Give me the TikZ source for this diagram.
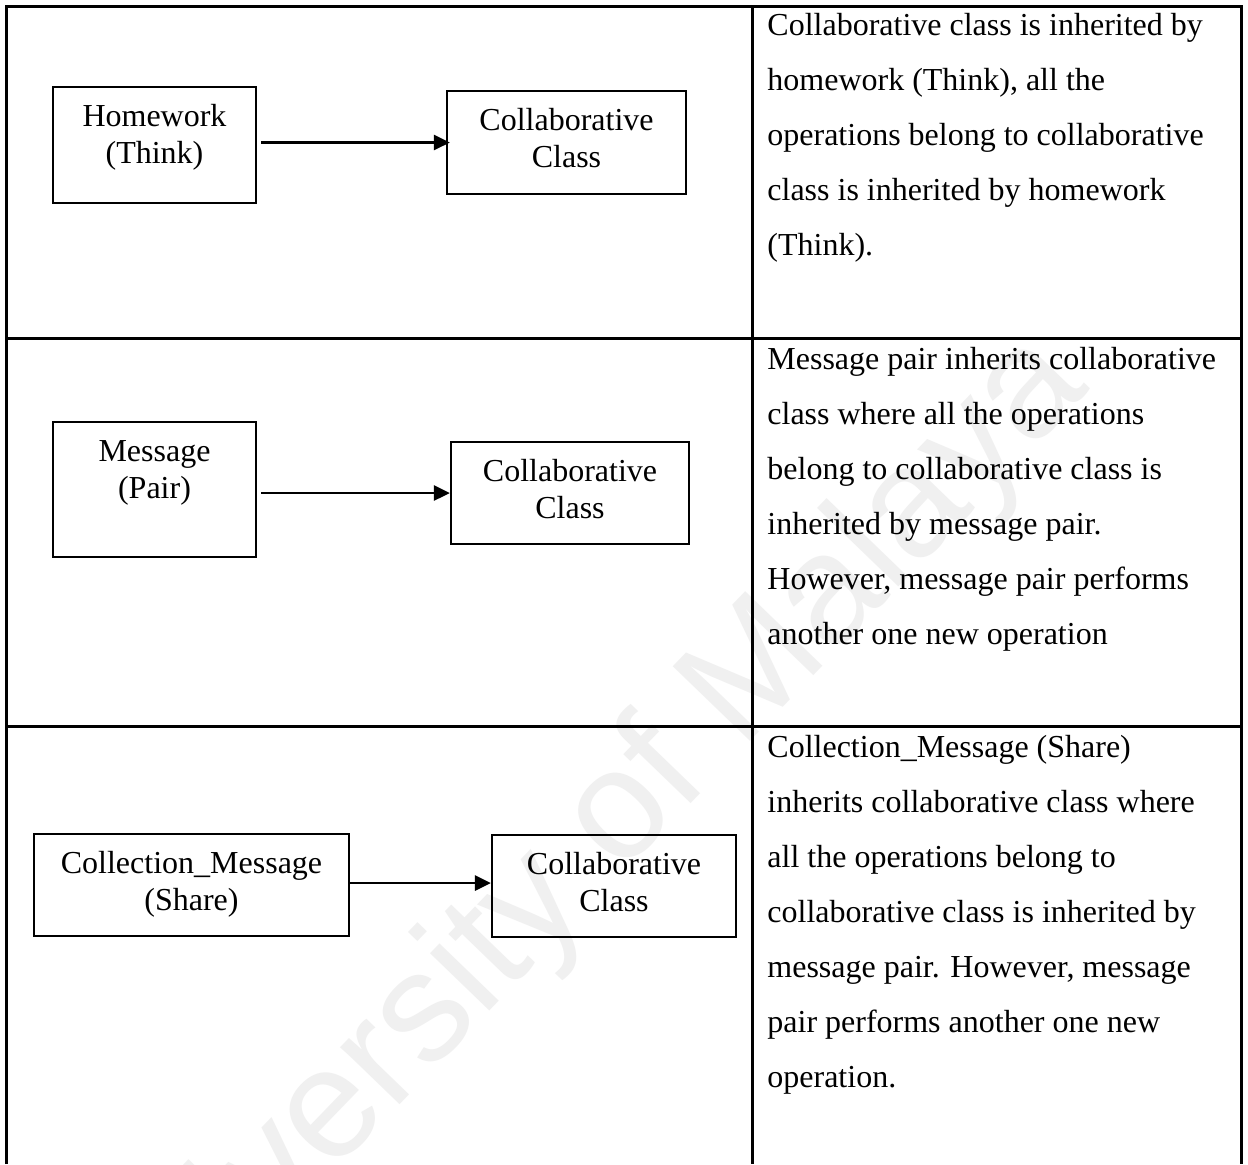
\documentclass[tikz,border=0pt]{standalone}
\usepackage{fontspec}
\setmainfont{Liberation Serif}
\setsansfont{Liberation Sans}
\usetikzlibrary{arrows.meta}

\begin{document}
\begin{tikzpicture}[
  x=0.5pt, y=-0.5pt,
  tableline/.style={line width=1.5pt},
  classbox/.style={draw, line width=1.1pt, inner sep=0pt},
  boxtext/.style={anchor=north, align=center, inner sep=0pt,
                  font=\fontsize{16}{18.4}\selectfont},
  celltext/.style={anchor=north west, align=left, inner sep=0pt,
                   font=\fontsize{16}{27.5}\selectfont},
  inherits/.style={line width=1.4pt, -{Triangle[length=8pt,width=7.5pt]}},
  watermark/.style={rotate=46, inner sep=0pt, text=black!6,
                    font=\fontsize{78}{78}\sffamily\selectfont}
]
\useasboundingbox (0,0) rectangle (1248,1164);
\fill[white] (0,0) rectangle (1248,1164);

% faint watermark behind the table
\node[watermark] (wm) at (574,866) {University of Malaya};

% table frame: open at the bottom
\draw[tableline] (6.5,1164) -- (6.5,6) -- (1241.7,6) -- (1241.7,1164);
\draw[tableline] (752.3,6) -- (752.3,1164);
\draw[tableline] (6.5,338.5) -- (1241.7,338.5);
\draw[tableline] (6.5,726) -- (1241.7,726);

% row 1: Homework (Think)
\node[classbox, minimum width=101.5pt, minimum height=58pt] (hw) at (154.5,145) {};
\node[boxtext] (hwt) at ([yshift=-7.4pt]hw.north) {\strut Homework\\(Think)};
\node[classbox, minimum width=119.5pt, minimum height=51.5pt] (ca) at (566.5,142.5) {};
\node[boxtext] (cat) at ([yshift=-7.4pt]ca.north) {\strut Collaborative\\Class};
\draw[inherits, shorten <=2pt, shorten >=-2pt] (hw.east |- ca.west) -- (ca.west);
\node[celltext] (da) at (767,-3.5) {\strut Collaborative class is inherited by\\
  homework (Think), all the\\
  operations belong to collaborative\\
  class is inherited by homework\\
  (Think).};

% row 2: Message (Pair)
\node[classbox, minimum width=101.5pt, minimum height=67.5pt] (mp) at (154.5,489.5) {};
\node[boxtext] (mpt) at ([yshift=-7.4pt]mp.north) {\strut Message\\(Pair)};
\node[classbox, minimum width=119pt, minimum height=51pt] (cb) at (570,493) {};
\node[boxtext] (cbt) at ([yshift=-7.4pt]cb.north) {\strut Collaborative\\Class};
\draw[inherits, shorten <=2pt] (mp.east |- cb.west) -- (cb.west);
\node[celltext] (db) at (767,330.5) {\strut Message pair inherits collaborative\\
  class where all the operations\\
  belong to collaborative class is\\
  inherited by message pair.\\
  However, message pair performs\\
  another one new operation};

% row 3: Collection_Message (Share)
\node[classbox, minimum width=157.5pt, minimum height=51pt] (cm) at (191.5,885) {};
\node[boxtext] (cmt) at ([yshift=-7.4pt]cm.north) {\strut Collection\_Message\\(Share)};
\node[classbox, minimum width=122pt, minimum height=51pt] (cc) at (614,886) {};
\node[boxtext] (cct) at ([yshift=-7.4pt]cc.north) {\strut Collaborative\\Class};
\draw[inherits] (cm.east |- 0,883) -- (cc.west |- 0,883);
\node[celltext] (dc) at (767,718.5) {\strut Collection\_Message (Share)\\
  inherits collaborative class where\\
  all the operations belong to\\
  collaborative class is inherited by\\
  message pair. However, message\\
  pair performs another one new\\
  operation.};
\end{tikzpicture}
\end{document}
